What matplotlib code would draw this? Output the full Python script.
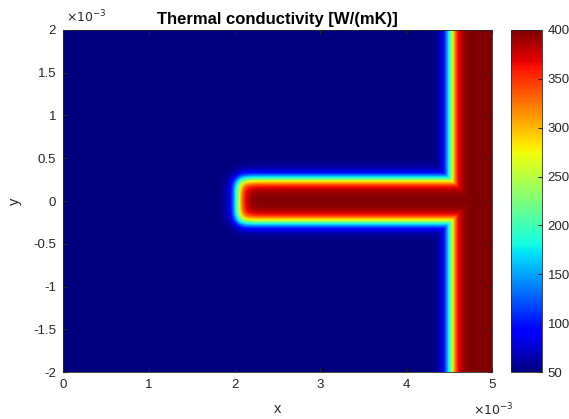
import numpy as np
import matplotlib
matplotlib.use("Agg")
import matplotlib.pyplot as plt
from matplotlib.ticker import FuncFormatter, FixedLocator

# Domain and geometry (metres)
x_range = [0.0, 5e-3]
y_range = [-2e-3, 2e-3]
stem_x_start = 2.03e-3        # left end of the horizontal bar
stem_half_width = 0.25e-3     # half thickness of the horizontal bar
bar_x_start = 4.52e-3         # left edge of the vertical bar
edge_width = 0.085e-3         # blur of material interfaces
k_low = 50.0                  # W/(mK)
k_high = 400.0                # W/(mK)
cbar_ticks = [50, 100, 150, 200, 250, 300, 350, 400]
x_ticks = [0, 1, 2, 3, 4, 5]
y_ticks = [-2, -1.5, -1, -0.5, 0, 0.5, 1, 1.5, 2]

plt.rcParams['font.family'] = ['Liberation Sans', 'DejaVu Sans']
txt_col = (0.15, 0.15, 0.15)

nx, ny = 500, 400
xs = np.linspace(x_range[0], x_range[1], nx)
ys = np.linspace(y_range[0], y_range[1], ny)
X, Y = np.meshgrid(xs, ys)

def sig(d):
    return 0.5 * (1 + np.tanh(d / edge_width))

s_vert = sig(X - bar_x_start)
s_horz = sig(X - stem_x_start) * sig(stem_half_width - np.abs(Y))
s = np.maximum(s_vert, s_horz)
K = k_low + (k_high - k_low) * s

fig = plt.figure(figsize=(5.69, 4.19), dpi=100)
ax = fig.add_axes([63/569, 1-372/419, (492-63)/569, (372-30)/419])
im = ax.imshow(K, extent=[x_range[0], x_range[1], y_range[0], y_range[1]],
               origin='lower', cmap='jet', vmin=k_low, vmax=k_high,
               aspect='auto', interpolation='bilinear')

ax.xaxis.set_major_locator(FixedLocator([t*1e-3 for t in x_ticks]))
ax.yaxis.set_major_locator(FixedLocator([t*1e-3 for t in y_ticks]))
ax.xaxis.set_major_formatter(FuncFormatter(lambda v, p: f"{v*1e3:g}"))
ax.yaxis.set_major_formatter(FuncFormatter(lambda v, p: f"{v*1e3:g}"))
ax.tick_params(direction='in', length=3, labelsize=9.5, colors=txt_col,
               top=True, right=True, pad=5)
for sp in ax.spines.values():
    sp.set_color(txt_col)
    sp.set_linewidth(0.6)

ax.set_title("Thermal conductivity [W/(mK)]", fontsize=12, fontweight='bold',
             color='black', pad=4)
ax.set_xlabel("x", fontsize=10.5, color=txt_col, labelpad=8)
ax.set_ylabel("y", fontsize=10.5, color=txt_col, labelpad=8)

fig.text(66/569, 1-17/419, r"$\times10^{-3}$", fontsize=9, color=txt_col,
         va='center', ha='left', math_fontfamily='dejavusans')
fig.text(473/569, 1-410/419, r"$\times10^{-3}$", fontsize=9, color=txt_col,
         va='center', ha='left', math_fontfamily='dejavusans')

cax = fig.add_axes([511/569, 1-372/419, 31/569, (372-30)/419])
cb = fig.colorbar(im, cax=cax, ticks=cbar_ticks)
cb.outline.set_linewidth(0.6)
cb.outline.set_edgecolor(txt_col)
cax.tick_params(direction='in', length=3, labelsize=9.5, colors=txt_col, pad=4)

fig.savefig("out.png", dpi=100)
